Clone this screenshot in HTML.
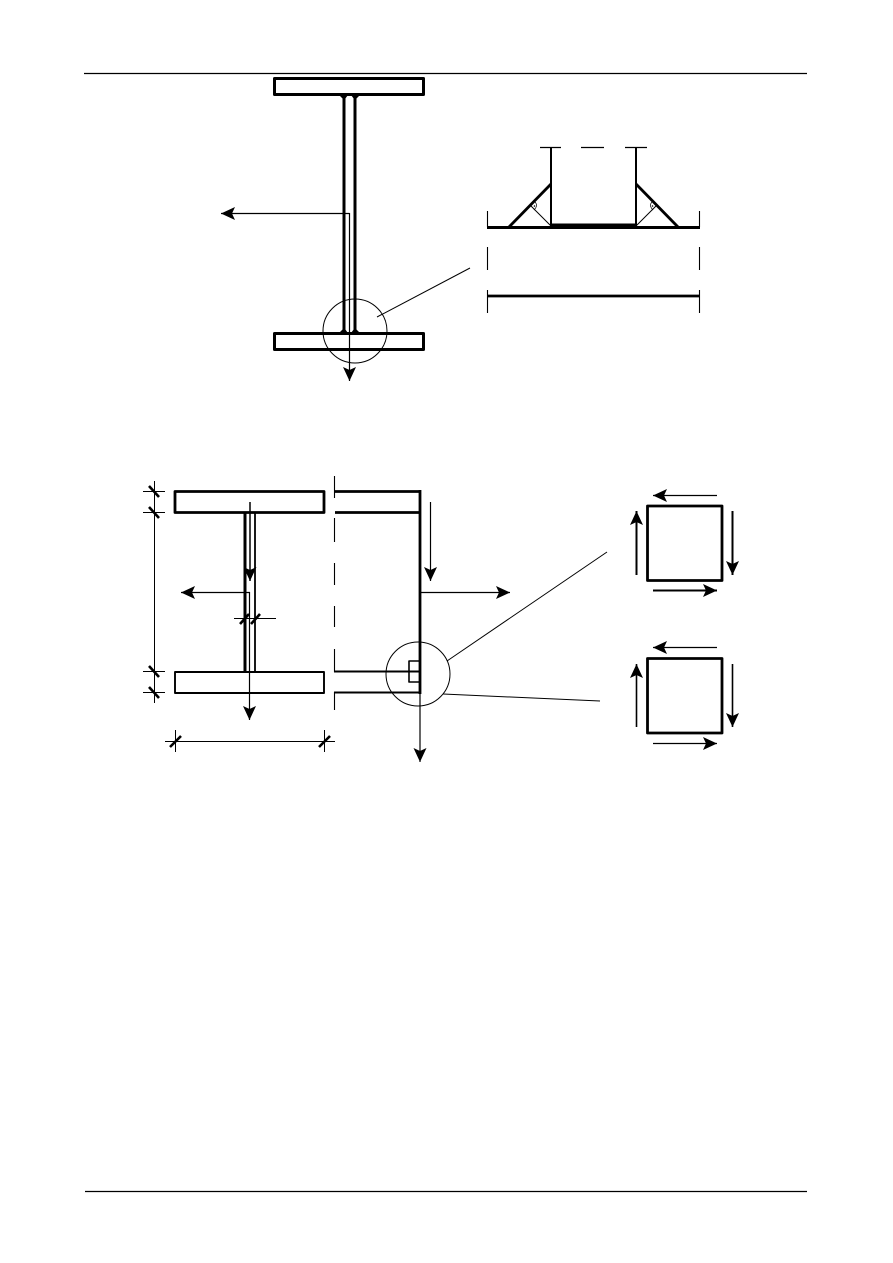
<!DOCTYPE html>
<html>
<head>
<meta charset="utf-8">
<style>
html,body{margin:0;padding:0;background:#fff;width:893px;height:1263px;overflow:hidden}
svg{display:block}
</style>
</head>
<body>
<svg width="893" height="1263" viewBox="0 0 893 1263" xmlns="http://www.w3.org/2000/svg">
<defs>
<marker id="a" markerUnits="userSpaceOnUse" markerWidth="16" markerHeight="16" refX="14" refY="7" orient="auto" viewBox="0 0 16 14">
<polygon points="0,0.5 14,7 0,13.5 3,7" fill="#000"/>
</marker>
</defs>
<g fill="none" stroke="#000" stroke-linecap="butt" stroke-linejoin="round">
<!-- page rules -->
<line x1="84" y1="73.5" x2="807" y2="73.5" stroke-width="1.2"/>
<line x1="85" y1="1191.5" x2="807" y2="1191.5" stroke-width="1.2"/>

<!-- top I-section -->
<rect x="274.5" y="78.5" width="149" height="16" stroke-width="3"/>
<rect x="274.5" y="333.5" width="149" height="16" stroke-width="3"/>
<line x1="344" y1="94" x2="344" y2="333" stroke-width="3"/>
<line x1="355" y1="94" x2="355" y2="333" stroke-width="3"/>
<g fill="#000" stroke="none">
<polygon points="339,95 348,95 345,99 343,99"/>
<polygon points="351,95 360,95 356,99 354,99"/>
<polygon points="339,333 348,333 345,329 343,329"/>
<polygon points="351,333 360,333 356,329 354,329"/>
</g>
<circle cx="355" cy="331" r="32" stroke-width="1"/>
<line x1="377" y1="317" x2="470" y2="268" stroke-width="1"/>
<polyline points="349.5,213.5 221,213.5" stroke-width="1.2" marker-end="url(#a)"/>
<line x1="349.5" y1="213" x2="349.5" y2="381" stroke-width="1.2" marker-end="url(#a)"/>

<!-- detail weld -->
<line x1="540" y1="147.5" x2="561" y2="147.5" stroke-width="1.2"/>
<line x1="581" y1="147.5" x2="604" y2="147.5" stroke-width="1.2"/>
<line x1="625" y1="147.5" x2="647" y2="147.5" stroke-width="1.2"/>
<line x1="551" y1="147" x2="551" y2="226" stroke-width="2"/>
<line x1="636" y1="147" x2="636" y2="226" stroke-width="2"/>
<line x1="487" y1="227.5" x2="700" y2="227.5" stroke-width="3"/>
<rect x="551" y="223.5" width="85" height="5.5" fill="#000" stroke="none"/>
<line x1="509" y1="227" x2="551" y2="184" stroke-width="2.8"/>
<line x1="678" y1="227" x2="636" y2="184" stroke-width="2.8"/>
<line x1="551" y1="226" x2="530" y2="205" stroke-width="1"/>
<line x1="636" y1="226" x2="657" y2="205" stroke-width="1"/>
<path d="M534 201 Q539 205 534 210" stroke-width="0.7"/>
<path d="M653 201 Q648 205 653 210" stroke-width="0.7"/>
<circle cx="534.5" cy="206" r="0.8" fill="#000" stroke="none"/>
<circle cx="652.5" cy="206" r="0.8" fill="#000" stroke="none"/>
<line x1="487.5" y1="211" x2="487.5" y2="227" stroke-width="1.1"/>
<line x1="699.5" y1="211" x2="699.5" y2="227" stroke-width="1.1"/>
<line x1="487.5" y1="247" x2="487.5" y2="270" stroke-width="1.1"/>
<line x1="699.5" y1="247" x2="699.5" y2="270" stroke-width="1.1"/>
<line x1="487" y1="296" x2="700" y2="296" stroke-width="2.8"/>
<line x1="487.5" y1="290" x2="487.5" y2="313" stroke-width="1.1"/>
<line x1="699.5" y1="290" x2="699.5" y2="313" stroke-width="1.1"/>

<!-- lower I-section -->
<rect x="175" y="491.5" width="149" height="21" stroke-width="2.8"/>
<rect x="175" y="672" width="149" height="21" stroke-width="1.9"/>
<line x1="245" y1="512" x2="245" y2="672" stroke-width="3"/>
<line x1="255" y1="512" x2="255" y2="672" stroke-width="1.8"/>
<line x1="250" y1="502" x2="250" y2="581" stroke-width="1.5" marker-end="url(#a)"/>
<line x1="250" y1="592.5" x2="181" y2="592.5" stroke-width="1.2" marker-end="url(#a)"/>
<line x1="249.5" y1="592" x2="249.5" y2="720" stroke-width="1.2" marker-end="url(#a)"/>
<line x1="234" y1="618.5" x2="276" y2="618.5" stroke-width="1"/>
<line x1="240" y1="624" x2="249" y2="614" stroke-width="2.6"/>
<line x1="251" y1="624" x2="260" y2="614" stroke-width="2.6"/>

<!-- left dimension -->
<line x1="154.5" y1="481" x2="154.5" y2="703" stroke-width="1"/>
<line x1="143" y1="491.5" x2="165" y2="491.5" stroke-width="1"/>
<line x1="143" y1="512.5" x2="165" y2="512.5" stroke-width="1"/>
<line x1="143" y1="671.5" x2="165" y2="671.5" stroke-width="1"/>
<line x1="143" y1="692.5" x2="165" y2="692.5" stroke-width="1"/>
<line x1="149" y1="486" x2="159" y2="497" stroke-width="2.6"/>
<line x1="149" y1="507" x2="159" y2="518" stroke-width="2.6"/>
<line x1="149" y1="666" x2="159" y2="677" stroke-width="2.6"/>
<line x1="149" y1="687" x2="159" y2="698" stroke-width="2.6"/>

<!-- bottom dimension -->
<line x1="165" y1="741.5" x2="335" y2="741.5" stroke-width="1"/>
<line x1="175.5" y1="730" x2="175.5" y2="752" stroke-width="1"/>
<line x1="324.5" y1="730" x2="324.5" y2="752" stroke-width="1"/>
<line x1="170" y1="747" x2="181" y2="736" stroke-width="2.6"/>
<line x1="319" y1="747" x2="330" y2="736" stroke-width="2.6"/>

<!-- break line -->
<g stroke-width="1.1">
<line x1="334.5" y1="476" x2="334.5" y2="498"/>
<line x1="334.5" y1="518" x2="334.5" y2="542"/>
<line x1="334.5" y1="563" x2="334.5" y2="585"/>
<line x1="334.5" y1="606" x2="334.5" y2="627"/>
<line x1="334.5" y1="649" x2="334.5" y2="672"/>
<line x1="334.5" y1="692" x2="334.5" y2="710"/>
</g>

<!-- right part -->
<line x1="335" y1="491.5" x2="420" y2="491.5" stroke-width="2.8"/>
<line x1="335" y1="512.5" x2="420" y2="512.5" stroke-width="2.8"/>
<line x1="420" y1="490" x2="420" y2="694" stroke-width="2.8"/>
<line x1="334" y1="671.5" x2="420" y2="671.5" stroke-width="1.9"/>
<line x1="334" y1="692.5" x2="420" y2="692.5" stroke-width="1.9"/>
<rect x="409" y="661" width="11" height="21" stroke-width="1.6"/>
<line x1="430.5" y1="502" x2="430.5" y2="581" stroke-width="1.2" marker-end="url(#a)"/>
<line x1="421" y1="592.5" x2="510" y2="592.5" stroke-width="1.2" marker-end="url(#a)"/>
<line x1="420" y1="693" x2="420" y2="762" stroke-width="1.2" marker-end="url(#a)"/>
<circle cx="418" cy="674" r="32" stroke-width="1"/>
<line x1="447" y1="661" x2="607" y2="552" stroke-width="1"/>
<line x1="443" y1="694" x2="600" y2="701" stroke-width="1"/>

<!-- stress elements -->
<rect x="647.5" y="506" width="74.5" height="74.5" stroke-width="2.8"/>
<line x1="717" y1="495.5" x2="653" y2="495.5" stroke-width="1.2" marker-end="url(#a)"/>
<line x1="732.5" y1="511" x2="732.5" y2="575" stroke-width="2" marker-end="url(#a)"/>
<line x1="636.5" y1="575" x2="636.5" y2="511" stroke-width="2" marker-end="url(#a)"/>
<line x1="653" y1="590.5" x2="717" y2="590.5" stroke-width="2" marker-end="url(#a)"/>

<rect x="647.5" y="658.5" width="74.5" height="74.5" stroke-width="2.8"/>
<line x1="717" y1="647.5" x2="653" y2="647.5" stroke-width="1.2" marker-end="url(#a)"/>
<line x1="732.5" y1="664" x2="732.5" y2="727" stroke-width="1.6" marker-end="url(#a)"/>
<line x1="636.5" y1="727" x2="636.5" y2="664" stroke-width="1.6" marker-end="url(#a)"/>
<line x1="653" y1="743.5" x2="717" y2="743.5" stroke-width="1.2" marker-end="url(#a)"/>
</g>
</svg>
</body>
</html>
